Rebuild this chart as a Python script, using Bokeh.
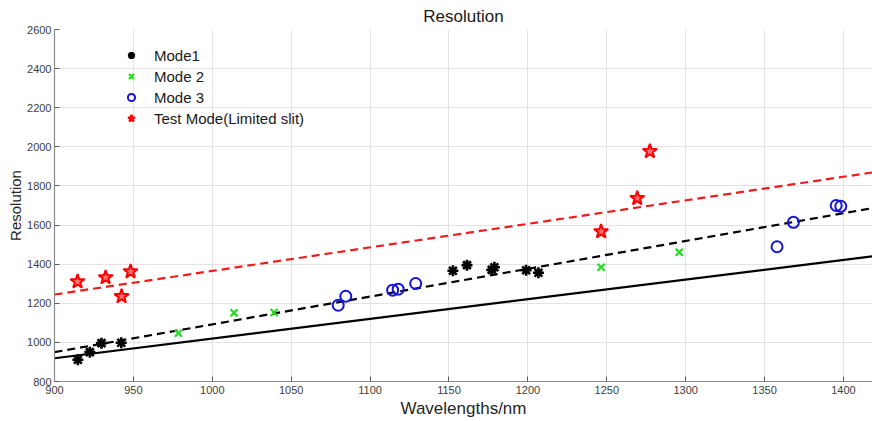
from bokeh.plotting import figure
from bokeh.models import FixedTicker, Legend, LegendItem, Range1d
from bokeh.embed import file_html
from bokeh.resources import INLINE

# ---- data ----
mode1_x = [914.8, 922.4, 929.8, 942.3, 1152.5, 1161.4, 1177.1, 1178.8, 1198.9, 1206.7]
mode1_y = [911, 950, 996, 998, 1366, 1395, 1371, 1384, 1369, 1356]

mode2_x = [978.5, 1013.8, 1039.2, 1246.4, 1295.9]
mode2_y = [1047, 1151, 1153, 1384, 1461]

mode3_x = [1079.8, 1084.6, 1114.3, 1117.8, 1128.9, 1357.9, 1368.3, 1395.4, 1398.3]
mode3_y = [1190, 1236, 1267, 1272, 1301, 1489, 1614, 1700, 1696]

test_x = [914.6, 932.4, 942.5, 948.2, 1246.4, 1269.3, 1277.3]
test_y = [1311, 1332, 1235, 1362, 1567, 1737, 1977]

fit_x = [900, 1420]
test_fit_y = [1245, 1871]
mode_fit_y = [950, 1689]
solid_fit_y = [919, 1442]

x_ticks = [900, 950, 1000, 1050, 1100, 1150, 1200, 1250, 1300, 1350, 1400]
y_ticks = [800, 1000, 1200, 1400, 1600, 1800, 2000, 2200, 2400, 2600]

FONT = "Liberation Sans"

p = figure(width=872, height=421, output_backend="svg", toolbar_location=None,
           x_range=Range1d(900, 1418.4), y_range=Range1d(800, 2600),
           title="Resolution", min_border_left=54, min_border_right=0,
           min_border_top=0, min_border_bottom=40)

p.outline_line_color = None
p.background_fill_color = "white"
p.border_fill_color = "white"

p.title.align = "center"
p.title.text_font = FONT
p.title.text_font_size = "17px"
p.title.text_font_style = "normal"
p.title.text_color = "#1a1a1a"
p.title.standoff = 8

for ax in (p.xaxis, p.yaxis):
    ax.axis_line_color = "#8a8a8a"
    ax.axis_line_width = 1.2
    ax.major_tick_line_color = "#606060"
    ax.major_tick_in = 5
    ax.major_tick_out = 0
    ax.minor_tick_line_color = None
    ax.major_label_text_font = FONT
    ax.major_label_text_font_size = "11px"
    ax.major_label_text_color = "#404040"
    ax.axis_label_text_font = FONT
    ax.axis_label_text_font_style = "normal"
    ax.axis_label_text_color = "#262626"

p.xaxis.ticker = FixedTicker(ticks=x_ticks)
p.yaxis.ticker = FixedTicker(ticks=y_ticks)
p.xaxis.axis_label = "Wavelengths/nm"
p.yaxis.axis_label = "Resolution"
p.xaxis.axis_label_text_font_size = "17px"
p.yaxis.axis_label_text_font_size = "15px"
p.xaxis.major_label_standoff = 4
p.yaxis.major_label_standoff = 3
p.xaxis.axis_label_standoff = 2
p.yaxis.axis_label_standoff = 0

p.grid.grid_line_color = "#e3e3e3"
p.grid.grid_line_width = 1

# fit lines
p.line(fit_x, solid_fit_y, line_color="black", line_width=2.2)
p.line(fit_x, mode_fit_y, line_color="black", line_width=2.2, line_dash="8 5")
p.line(fit_x, test_fit_y, line_color="#ee1c1c", line_width=2.2, line_dash="8 5")

# markers
r1 = p.scatter(mode1_x, mode1_y, marker="asterisk", size=11, line_color="black", line_width=2.6)
r2 = p.scatter(mode2_x, mode2_y, marker="x", size=10, line_color="#1de01d", line_width=2.2)
r3 = p.scatter(mode3_x, mode3_y, marker="circle", size=11, line_color="#1515d8",
               fill_color=None, line_width=2)
r4 = p.scatter(test_x, test_y, marker="star", size=15, line_color="#ff0000",
               fill_color="#ff0000", fill_alpha=0.55, line_width=2)

legend = Legend(items=[
    LegendItem(label="Mode1", renderers=[r1]),
    LegendItem(label="Mode 2", renderers=[r2]),
    LegendItem(label="Mode 3", renderers=[r3]),
    LegendItem(label="Test Mode(Limited slit)", renderers=[r4]),
], location=(67, 254))
legend.background_fill_alpha = 0
legend.border_line_color = None
legend.label_text_font = FONT
legend.label_text_font_size = "15px"
legend.label_text_color = "#1a1a1a"
legend.label_height = 18
legend.glyph_height = 18
legend.glyph_width = 20
legend.spacing = 3
legend.padding = 10
legend.margin = 0
legend.label_standoff = 13
p.add_layout(legend, "center")

open("out.html", "w").write(file_html(p, INLINE))
